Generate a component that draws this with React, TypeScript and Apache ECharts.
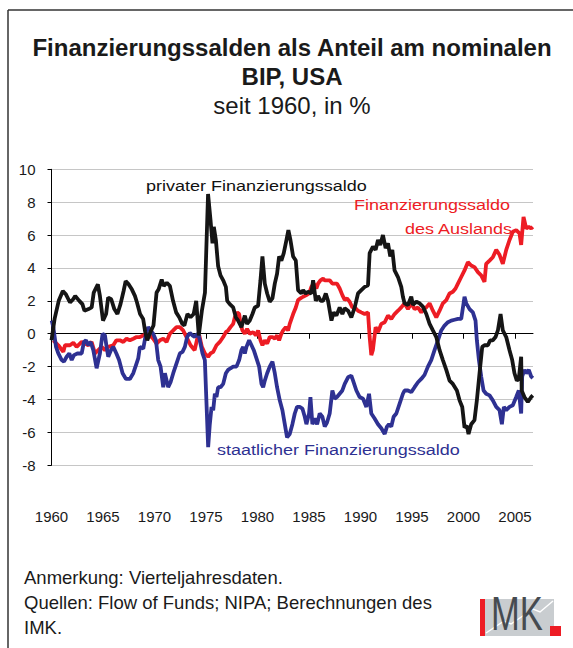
import React, { useEffect, useRef } from 'react';
import * as echarts from 'echarts';

// [year, % of GDP]
const privateSaldo: [number, number][] = [
  [1960.0,-0.4],[1960.3,0.9],[1960.7,2.0],[1961.1,2.6],[1961.4,2.4],[1961.8,1.9],[1962.1,2.1],[1962.3,2.3],[1962.7,2.0],[1963.0,1.8],[1963.2,1.4],[1963.6,1.5],[1963.9,1.6],[1964.1,2.5],[1964.5,3.0],[1964.7,2.3],[1965.0,0.8],[1965.3,1.2],[1965.5,2.2],[1965.8,2.1],[1966.1,1.5],[1966.4,1.2],[1966.7,1.8],[1967.0,2.6],[1967.2,3.2],[1967.5,3.0],[1967.8,2.7],[1968.1,2.3],[1968.3,1.9],[1968.6,1.2],[1968.9,0.9],[1969.1,0.1],[1969.3,-0.4],[1969.6,0.1],[1969.9,0.5],[1970.2,2.5],[1970.4,2.7],[1970.7,3.3],[1970.9,2.9],[1971.2,3.1],[1971.5,2.9],[1971.8,2.0],[1972.1,1.3],[1972.4,1.0],[1972.7,0.6],[1972.9,0.5],[1973.2,1.2],[1973.5,1.0],[1973.8,1.2],[1974.05,2.0],[1974.3,-0.1],[1974.6,1.4],[1974.9,2.5],[1975.2,8.5],[1975.44,6.9],[1975.63,5.5],[1975.76,6.5],[1975.96,5.7],[1976.18,4.1],[1976.41,3.55],[1976.67,3.25],[1976.93,2.85],[1977.06,2.0],[1977.31,1.8],[1977.64,1.6],[1977.9,1.0],[1978.12,0.8],[1978.44,0.4],[1978.77,1.1],[1978.99,0.6],[1979.25,0.8],[1979.51,1.2],[1979.74,1.6],[1980.06,1.7],[1980.29,3.25],[1980.48,4.7],[1980.71,3.05],[1980.94,2.45],[1981.19,1.95],[1981.45,2.15],[1981.68,3.05],[1981.9,3.65],[1982.1,4.7],[1982.32,4.45],[1982.55,4.9],[1982.81,5.7],[1983.0,6.3],[1983.2,5.7],[1983.46,4.7],[1983.72,4.45],[1983.94,2.65],[1984.26,2.45],[1984.43,2.65],[1984.68,2.45],[1984.91,2.55],[1985.23,2.45],[1985.4,3.25],[1985.66,2.0],[1985.88,2.3],[1986.14,2.0],[1986.37,2.0],[1986.63,2.45],[1986.85,2.0],[1987.18,0.8],[1987.4,1.3],[1987.66,1.1],[1987.98,1.6],[1988.24,1.2],[1988.47,1.55],[1988.79,1.4],[1989.11,1.0],[1989.44,1.6],[1989.76,2.45],[1990.08,2.65],[1990.41,2.85],[1990.73,2.95],[1990.89,4.9],[1991.21,5.3],[1991.47,5.1],[1991.7,5.7],[1991.92,5.4],[1992.18,6.0],[1992.44,5.2],[1992.67,5.5],[1992.89,4.7],[1993.09,5.1],[1993.31,3.85],[1993.64,3.45],[1993.96,2.85],[1994.12,2.25],[1994.28,1.85],[1994.61,1.75],[1994.93,2.25],[1995.09,1.75],[1995.42,1.95],[1995.74,1.85],[1996.06,1.65],[1996.39,1.2],[1996.71,0.6],[1997.03,0.2],[1997.36,-0.2],[1997.68,-1.0],[1998.0,-1.6],[1998.33,-2.2],[1998.65,-2.85],[1998.97,-3.05],[1999.36,-3.45],[1999.62,-4.05],[1999.88,-4.45],[2000.1,-5.7],[2000.33,-5.6],[2000.49,-6.1],[2000.75,-5.5],[2001.07,-5.25],[2001.3,-4.05],[2001.56,-2.4],[2001.82,-0.8],[2002.04,-0.7],[2002.37,-0.7],[2002.59,-0.4],[2002.85,-0.4],[2003.11,-0.2],[2003.34,0.2],[2003.6,1.2],[2003.82,0.2],[2004.15,-0.2],[2004.47,-1.0],[2004.73,-1.6],[2004.95,-2.4],[2005.18,-2.85],[2005.37,-2.75],[2005.6,-1.4],[2005.65,-3.45],[2005.92,-3.85],[2006.25,-4.15],[2006.57,-3.85],[2006.73,-3.75]
];

const publicSaldo: [number, number][] = [
  [1960.02,0.8],[1960.18,0.4],[1960.44,-0.8],[1960.66,-1.2],[1960.99,-1.6],[1961.21,-1.7],[1961.47,-1.4],[1961.73,-1.2],[1961.96,-1.6],[1962.18,-1.3],[1962.51,-1.2],[1962.93,-1.2],[1963.15,-0.5],[1963.35,-0.4],[1963.57,-0.7],[1963.8,-0.5],[1964.06,-1.0],[1964.38,-2.1],[1964.7,-1.2],[1964.96,0.0],[1965.19,-0.1],[1965.35,-0.8],[1965.51,-1.4],[1965.77,-1.0],[1966.0,-0.8],[1966.3,-1.2],[1966.56,-1.6],[1966.9,-2.4],[1967.23,-2.75],[1967.61,-2.75],[1967.94,-2.4],[1968.26,-1.8],[1968.42,-1.5],[1968.58,-0.8],[1968.91,-0.9],[1969.17,0.0],[1969.39,0.4],[1969.62,0.2],[1969.87,0.0],[1970.14,-0.4],[1970.36,-1.6],[1970.59,-2.0],[1970.85,-3.25],[1971.01,-2.4],[1971.33,-3.25],[1971.56,-2.95],[1971.82,-2.4],[1972.14,-1.8],[1972.46,-1.2],[1972.72,-1.1],[1972.95,-0.8],[1973.17,-0.2],[1973.43,0.05],[1973.68,-0.1],[1973.91,-0.2],[1974.02,-0.1],[1974.24,0.0],[1974.4,-0.4],[1974.66,-1.2],[1974.89,-1.6],[1975.21,-6.9],[1975.37,-5.5],[1975.54,-4.45],[1975.7,-4.65],[1975.86,-3.65],[1976.02,-3.85],[1976.18,-3.25],[1976.41,-3.25],[1976.67,-3.05],[1976.93,-2.4],[1977.15,-2.2],[1977.38,-2.1],[1977.64,-2.0],[1977.96,-2.0],[1978.22,-1.6],[1978.44,-1.0],[1978.61,-0.8],[1978.77,-1.2],[1978.93,-0.8],[1979.19,-0.4],[1979.42,-0.7],[1979.64,-1.0],[1979.9,-1.5],[1980.16,-2.0],[1980.39,-3.05],[1980.55,-3.25],[1980.71,-2.85],[1980.94,-2.4],[1981.19,-2.0],[1981.45,-1.7],[1981.68,-2.4],[1981.9,-3.25],[1982.16,-4.05],[1982.42,-4.65],[1982.65,-5.5],[1982.87,-6.3],[1983.13,-6.1],[1983.39,-5.5],[1983.62,-4.85],[1983.84,-4.45],[1984.1,-4.45],[1984.36,-4.55],[1984.59,-5.05],[1984.75,-5.5],[1985.01,-4.85],[1985.14,-3.85],[1985.33,-5.5],[1985.56,-5.15],[1985.79,-5.5],[1986.04,-4.85],[1986.3,-5.05],[1986.53,-5.65],[1986.75,-5.4],[1987.01,-4.85],[1987.27,-3.45],[1987.5,-3.95],[1987.72,-3.85],[1987.98,-3.65],[1988.24,-3.45],[1988.47,-3.05],[1988.79,-2.65],[1989.11,-2.55],[1989.28,-2.85],[1989.6,-3.45],[1989.92,-3.85],[1990.25,-3.95],[1990.57,-4.45],[1990.83,-3.65],[1991.05,-4.85],[1991.37,-5.15],[1991.7,-5.5],[1992.02,-5.75],[1992.35,-6.1],[1992.57,-5.65],[1992.77,-5.5],[1992.99,-5.65],[1993.22,-5.05],[1993.48,-4.85],[1993.8,-4.25],[1994.12,-3.65],[1994.28,-3.45],[1994.61,-3.45],[1994.93,-3.55],[1995.25,-3.25],[1995.58,-2.95],[1995.9,-2.75],[1996.22,-2.5],[1996.55,-2.0],[1996.87,-1.6],[1997.19,-1.0],[1997.52,-0.4],[1997.84,0.2],[1998.16,0.5],[1998.49,0.7],[1998.81,0.8],[1999.13,0.85],[1999.46,0.9],[1999.78,0.9],[2000.01,1.85],[2000.1,2.25],[2000.27,1.85],[2000.59,1.5],[2000.91,1.3],[2001.17,0.8],[2001.3,-0.4],[2001.5,-1.6],[2001.72,-2.6],[2001.95,-3.45],[2002.2,-3.65],[2002.53,-3.75],[2002.85,-4.05],[2003.18,-4.45],[2003.5,-4.65],[2003.73,-5.5],[2003.92,-4.45],[2004.15,-4.65],[2004.47,-4.45],[2004.79,-4.35],[2005.12,-3.85],[2005.37,-3.45],[2005.6,-4.85],[2005.7,-2.6],[2005.92,-2.2],[2006.09,-2.4],[2006.34,-2.2],[2006.57,-2.6],[2006.73,-2.7]
];

const foreignSaldo: [number, number][] = [
  [1960.18,-0.4],[1960.66,-0.7],[1961.15,-1.1],[1961.31,-0.7],[1961.79,-0.7],[1962.12,-0.55],[1962.44,-0.8],[1962.93,-0.5],[1963.25,-0.6],[1963.57,-0.7],[1963.9,-0.5],[1964.22,-1.2],[1964.54,-1.0],[1964.87,-0.8],[1965.19,-1.0],[1965.51,-0.8],[1966.0,-0.7],[1966.3,-0.4],[1966.64,-0.4],[1966.97,-0.5],[1967.29,-0.3],[1967.61,-0.4],[1967.94,-0.3],[1968.26,-0.2],[1968.58,-0.2],[1968.91,-0.1],[1969.23,0.0],[1969.55,-0.1],[1969.87,-0.3],[1970.2,-0.6],[1970.52,-0.4],[1970.85,-0.3],[1971.17,-0.5],[1971.49,0.0],[1971.82,0.2],[1972.14,0.4],[1972.46,0.4],[1972.78,0.2],[1973.11,-0.2],[1973.5,-0.7],[1973.9,-1.0],[1974.15,-0.3],[1974.35,-0.1],[1974.6,-0.8],[1974.9,-1.2],[1975.21,-1.4],[1975.44,-1.2],[1975.7,-1.1],[1976.02,-0.7],[1976.34,-0.5],[1976.67,-0.2],[1976.93,0.1],[1977.15,0.2],[1977.38,0.4],[1977.64,0.6],[1977.8,1.0],[1978.03,1.3],[1978.22,1.2],[1978.35,0.6],[1978.54,0.2],[1978.77,0.0],[1978.99,0.3],[1979.25,0.0],[1979.58,0.1],[1979.84,-0.1],[1980.06,0.2],[1980.29,-0.4],[1980.48,-0.7],[1980.71,-0.4],[1980.94,-0.6],[1981.19,-0.2],[1981.45,-0.2],[1981.68,-0.3],[1981.9,-0.1],[1982.1,-0.4],[1982.32,0.0],[1982.49,0.2],[1982.75,0.4],[1982.97,0.2],[1983.13,0.6],[1983.46,1.2],[1983.72,1.6],[1983.94,2.05],[1984.17,2.15],[1984.43,2.25],[1984.75,2.35],[1985.01,2.45],[1985.23,2.85],[1985.46,3.05],[1985.72,2.75],[1985.88,3.05],[1986.11,3.25],[1986.37,3.35],[1986.53,3.25],[1986.75,3.25],[1987.01,3.25],[1987.27,3.05],[1987.5,3.05],[1987.72,3.05],[1987.98,2.75],[1988.24,2.35],[1988.47,2.05],[1988.69,2.15],[1988.95,1.95],[1989.21,1.6],[1989.44,1.6],[1989.76,1.4],[1990.08,1.3],[1990.41,1.2],[1990.73,1.3],[1990.89,-0.2],[1991.05,-1.3],[1991.2,-1.0],[1991.47,0.4],[1991.7,0.1],[1992.02,0.6],[1992.35,0.7],[1992.67,1.1],[1992.99,0.9],[1993.31,1.2],[1993.64,1.4],[1993.96,1.6],[1994.28,1.85],[1994.61,1.5],[1994.93,1.85],[1995.25,1.5],[1995.58,1.6],[1995.9,1.3],[1996.13,1.5],[1996.39,1.6],[1996.71,1.85],[1997.03,1.4],[1997.36,1.0],[1997.68,1.4],[1998.0,1.85],[1998.33,2.05],[1998.65,2.45],[1998.97,2.55],[1999.23,2.75],[1999.46,3.05],[1999.78,3.45],[2000.1,3.85],[2000.43,4.35],[2000.75,4.15],[2001.07,4.05],[2001.4,3.75],[2001.72,3.55],[2002.04,3.15],[2002.2,4.25],[2002.53,4.45],[2002.85,4.65],[2003.18,5.1],[2003.5,4.8],[2003.82,4.25],[2004.15,5.1],[2004.47,5.7],[2004.79,6.2],[2005.12,6.3],[2005.44,6.1],[2005.6,5.4],[2005.83,7.1],[2006.09,6.4],[2006.34,6.5],[2006.57,6.4],[2006.73,6.5]
];

const yearTicks = [1960, 1965, 1970, 1975, 1980, 1985, 1990, 1995, 2000, 2005];
const yMin = -8;
const yMax = 10;
const yStep = 2;

const titleLines = ['Finanzierungssalden als Anteil am nominalen', 'BIP, USA'];
const subtitle = 'seit 1960, in %';
const notes = ['Anmerkung: Vierteljahresdaten.', 'Quellen: Flow of Funds; NIPA; Berechnungen des', 'IMK.'];

const FONT = '"Liberation Sans", Arial, Helvetica, sans-serif';
const RED = '#ed1c24';
const BLUE = '#2e3192';
const BLACK = '#151515';

export default function App() {
  const ref = useRef<HTMLDivElement>(null);
  useEffect(() => {
    const chart = echarts.init(ref.current!, null, { renderer: 'svg', width: 573, height: 648 });
    const txt = (text: string, x: number, y: number, o: any = {}) => ({
      type: 'text', x, y, scaleX: o.scaleX ?? 1, z: 100,
      style: {
        text, fill: o.fill ?? '#1a1a1a', fontSize: o.size ?? 15, fontWeight: o.weight ?? 'normal',
        fontFamily: FONT, textAlign: o.align ?? 'left', textVerticalAlign: 'middle',
      },
    });
    const option: any = {
      animation: false,
      backgroundColor: '#ffffff',
      grid: { left: 51.5, top: 169.3, width: 481.5, height: 296 },
      xAxis: [
        {
          type: 'value', min: 1960, max: 2006.75, interval: 5,
          axisLine: { show: true, onZero: true, lineStyle: { color: '#000', width: 1 } },
          axisTick: { show: true, inside: false, length: 5, customValues: yearTicks, lineStyle: { color: '#000' } },
          axisLabel: { show: false },
          splitLine: { show: false },
        },
        {
          type: 'value', min: 1960, max: 2006.75, interval: 5, position: 'bottom', offset: 36,
          axisLine: { show: false, onZero: false },
          axisTick: { show: false },
          axisLabel: {
            show: true, customValues: yearTicks, margin: 8, fontSize: 15, fontFamily: FONT, color: '#1a1a1a',
            formatter: (v: number) => String(Math.round(v)),
          },
          splitLine: { show: false },
        },
      ],
      yAxis: {
        type: 'value', min: yMin, max: yMax, interval: yStep,
        axisLine: { show: true, onZero: false, lineStyle: { color: '#000', width: 1 } },
        axisTick: { show: true, inside: false, length: 4, lineStyle: { color: '#000' } },
        axisLabel: { fontSize: 15, fontFamily: FONT, color: '#1a1a1a', margin: 16 },
        splitLine: { show: true, lineStyle: { color: '#c6c6c6', width: 1 } },
      },
      series: [
        { type: 'line', name: 'Ausland', data: foreignSaldo, showSymbol: false, symbol: 'none', lineStyle: { color: RED, width: 3.8 }, z: 2 },
        { type: 'line', name: 'Staat', data: publicSaldo, showSymbol: false, symbol: 'none', lineStyle: { color: BLUE, width: 3.8 }, z: 3 },
        { type: 'line', name: 'Privat', data: privateSaldo, showSymbol: false, symbol: 'none', lineStyle: { color: BLACK, width: 3.8 }, z: 4 },
      ],
      graphic: [
        { type: 'line', shape: { x1: 8, y1: 10, x2: 573, y2: 10 }, style: { stroke: '#333', lineWidth: 1.5 } },
        { type: 'line', shape: { x1: 8, y1: 10, x2: 8, y2: 648 }, style: { stroke: '#333', lineWidth: 1.5 } },
        txt(titleLines[0], 292, 47, { size: 24, weight: 'bold', align: 'center' }),
        txt(titleLines[1], 292, 76, { size: 24, weight: 'bold', align: 'center' }),
        txt(subtitle, 292, 105, { size: 24, align: 'center' }),
        txt('privater Finanzierungssaldo', 146, 186, { scaleX: 1.2, fill: '#111' }),
        txt('Finanzierungssaldo', 510, 205, { scaleX: 1.2, fill: RED, align: 'right' }),
        txt('des Auslands', 512, 229, { scaleX: 1.2, fill: RED, align: 'right' }),
        txt('staatlicher Finanzierungssaldo', 217, 450, { scaleX: 1.2, fill: BLUE }),
        txt(notes[0], 24, 577, { size: 18.5 }),
        txt(notes[1], 24, 602, { size: 18.5 }),
        txt(notes[2], 24, 627, { size: 18.5 }),
        { type: 'rect', shape: { x: 485, y: 599, width: 69, height: 37 }, style: { fill: '#c9cdd0' } },
        { type: 'polyline', shape: { points: [[486, 633], [504, 621], [511, 624], [533, 609], [540, 612], [553, 601]] }, style: { stroke: '#ffffff', lineWidth: 1.5, fill: null } },
        { type: 'text', x: 491, y: 637, scaleX: 0.72, style: { text: 'MK', fill: '#464b50', fontSize: 48, fontFamily: FONT, textAlign: 'left', textVerticalAlign: 'bottom' } },
        { type: 'rect', shape: { x: 480, y: 599, width: 5, height: 37 }, style: { fill: RED } },
        { type: 'rect', shape: { x: 550, y: 626, width: 11, height: 10 }, style: { fill: RED } },
      ],
    };
    chart.setOption(option);
    return () => chart.dispose();
  }, []);
  return <div ref={ref} style={{ position: 'absolute', left: 0, top: 0, width: 573, height: 648, background: '#fff' }} />;
}
